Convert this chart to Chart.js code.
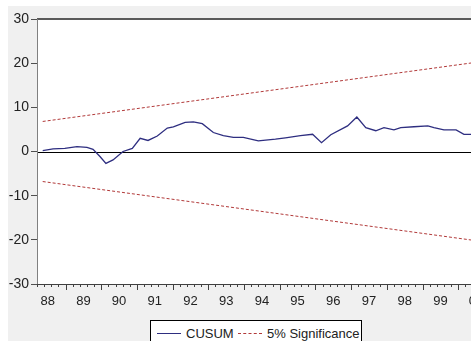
<!DOCTYPE html>
<html>
<head>
<meta charset="utf-8">
<script src="https://cdn.jsdelivr.net/npm/chart.js@4"></script>
<style>
    html, body { margin: 0; padding: 0; width: 471px; height: 341px; overflow: hidden; background: #fff; }
    .panel { position: absolute; left: 8px; top: 6px; right: 0; bottom: 0; background: #f0f0f0; }
    #chart { position: absolute; left: 0; top: 0; }
    .legend {
        position: absolute; left: 150px; top: 320px; width: 212px; height: 30px;
        border: 1px solid #000; background: #fff; box-sizing: border-box;
        font: 13px "Liberation Sans", Arial, sans-serif; color: #222;
    }
    .legend .item { position: absolute; top: 5px; line-height: 15px; }
    .legend .swatch { display: inline-block; width: 24px; vertical-align: middle; margin-right: 5px; margin-top: -2px; }
</style>
</head>
<body>
<div class="panel"></div>
<canvas id="chart" width="480" height="341"></canvas>
<div class="legend" id="legend"></div>
<script>
// CUSUM path (fractional year, value)
const cusumDates = [88.36, 88.65, 88.98, 89.32, 89.60, 89.77, 89.97, 90.13, 90.33, 90.61,
    90.87, 91.09, 91.31, 91.57, 91.85, 92.02, 92.35, 92.58, 92.83, 93.14,
    93.42, 93.70, 93.98, 94.40, 94.88, 95.16, 95.58, 95.92, 96.17, 96.43,
    96.90, 97.16, 97.41, 97.69, 97.92, 98.20, 98.39, 98.76, 99.15, 99.32,
    99.60, 99.94, 100.16, 100.60];
const cusumValues = [0.2, 0.6, 0.7, 1.1, 0.95, 0.5, -1.2, -2.7, -1.9, 0.0,
    0.7, 3.0, 2.5, 3.5, 5.3, 5.6, 6.6, 6.7, 6.3, 4.3,
    3.6, 3.2, 3.2, 2.4, 2.8, 3.1, 3.6, 3.9, 2.0, 3.8,
    5.8, 7.8, 5.4, 4.7, 5.4, 4.9, 5.4, 5.6, 5.8, 5.4,
    4.9, 4.9, 3.9, 3.9];

// 5% significance bounds (straight lines)
const boundDates = [88.36, 100.60];
const upperBound = [6.8, 20.3];
const lowerBound = [-6.8, -20.3];

const yearLabels = ['88', '89', '90', '91', '92', '93', '94', '95', '96', '97', '98', '99', '00'];
const yTicks = [-30, -20, -10, 0, 10, 20, 30];

const cusumColor = '#2e2e80';
const boundColor = '#b23a3a';
const fontFamily = '"Liberation Sans", Arial, sans-serif';

function toPoints(xs, ys) {
    return xs.map((x, i) => ({ x: x, y: ys[i] }));
}

// white plot area + frame
const framePlugin = {
    id: 'frame',
    beforeDatasetsDraw(chart) {
        const a = chart.chartArea, ctx = chart.ctx;
        ctx.save();
        ctx.fillStyle = '#fff';
        ctx.fillRect(a.left, a.top, a.right - a.left, a.bottom - a.top);
        // zero line
        const y0 = Math.round(chart.scales.y.getPixelForValue(0)) + 0.5;
        ctx.strokeStyle = '#000';
        ctx.lineWidth = 1;
        ctx.beginPath();
        ctx.moveTo(a.left, y0);
        ctx.lineTo(a.right, y0);
        ctx.stroke();
        ctx.restore();
    },
    afterDraw(chart) {
        const a = chart.chartArea, ctx = chart.ctx, x = chart.scales.x;
        ctx.save();
        // top border
        ctx.strokeStyle = '#5a5a5a';
        ctx.lineWidth = 2;
        ctx.beginPath();
        ctx.moveTo(a.left, a.top);
        ctx.lineTo(a.right, a.top);
        ctx.stroke();
        // left border
        ctx.strokeStyle = '#808080';
        ctx.lineWidth = 1;
        ctx.beginPath();
        ctx.moveTo(a.left + 0.5, a.top);
        ctx.lineTo(a.left + 0.5, a.bottom);
        ctx.stroke();
        // bottom border
        ctx.strokeStyle = '#404040';
        ctx.beginPath();
        ctx.moveTo(a.left, a.bottom + 0.5);
        ctx.lineTo(a.right, a.bottom + 0.5);
        ctx.stroke();
        // x tick marks: minor every 0.2 year, major at each year
        for (let i = Math.ceil(x.min * 5); i <= x.max * 5; i++) {
            const t = i / 5;
            const px = Math.round(x.getPixelForValue(t)) + 0.5;
            const len = (i % 5 === 0) ? 6 : 3;
            ctx.beginPath();
            ctx.moveTo(px, a.bottom);
            ctx.lineTo(px, a.bottom + len);
            ctx.stroke();
        }
        ctx.restore();
    }
};

const ctx = document.getElementById('chart').getContext('2d');
const chart = new Chart(ctx, {
    type: 'line',
    data: {
        datasets: [
            {
                label: 'CUSUM',
                data: toPoints(cusumDates, cusumValues),
                borderColor: cusumColor,
                borderWidth: 1.3,
                pointRadius: 0,
                tension: 0
            },
            {
                label: '5% Significance',
                data: toPoints(boundDates, upperBound),
                borderColor: boundColor,
                borderWidth: 1,
                borderDash: [3, 2],
                pointRadius: 0
            },
            {
                label: '5% Significance (lower)',
                data: toPoints(boundDates, lowerBound),
                borderColor: boundColor,
                borderWidth: 1,
                borderDash: [3, 2],
                pointRadius: 0
            }
        ]
    },
    options: {
        responsive: false,
        animation: false,
        layout: { padding: { top: 19, right: 0, bottom: 0, left: 0 } },
        plugins: {
            legend: { display: false },
            tooltip: { enabled: false }
        },
        scales: {
            x: {
                type: 'linear',
                min: 88.2,
                max: 100.61,
                border: { display: false },
                grid: { display: false, drawTicks: false },
                afterBuildTicks(scale) {
                    scale.ticks = yearLabels.map((_, i) => ({ value: 88.5 + i }));
                },
                afterFit(scale) {
                    scale.height = 57;
                    scale.paddingLeft = 0;
                    scale.paddingRight = 0;
                },
                ticks: {
                    autoSkip: false,
                    maxRotation: 0,
                    padding: 10,
                    color: '#222',
                    font: { family: fontFamily, size: 13 },
                    callback: function(value) {
                        return yearLabels[Math.round(value - 88.5)];
                    }
                }
            },
            y: {
                min: -30,
                max: 30,
                border: { display: false },
                afterBuildTicks(scale) {
                    scale.ticks = yTicks.map(v => ({ value: v }));
                },
                afterFit(scale) {
                    scale.width = 37;
                    scale.paddingTop = 0;
                    scale.paddingBottom = 0;
                },
                grid: {
                    drawOnChartArea: false,
                    tickLength: 6,
                    tickColor: '#505050'
                },
                ticks: {
                    padding: 2,
                    color: '#222',
                    font: { family: fontFamily, size: 14 }
                }
            }
        }
    },
    plugins: [framePlugin]
});

// legend box drawn as html, from the first two datasets
const legend = document.getElementById('legend');
const legendX = [6, 87];
chart.data.datasets.slice(0, 2).forEach((ds, i) => {
    const item = document.createElement('div');
    item.className = 'item';
    item.style.left = legendX[i] + 'px';
    const sw = document.createElement('span');
    sw.className = 'swatch';
    sw.style.borderTop = (ds.borderDash ? '1px dashed ' : '1px solid ') + ds.borderColor;
    item.appendChild(sw);
    item.appendChild(document.createTextNode(ds.label));
    legend.appendChild(item);
});
</script>
</body>
</html>
